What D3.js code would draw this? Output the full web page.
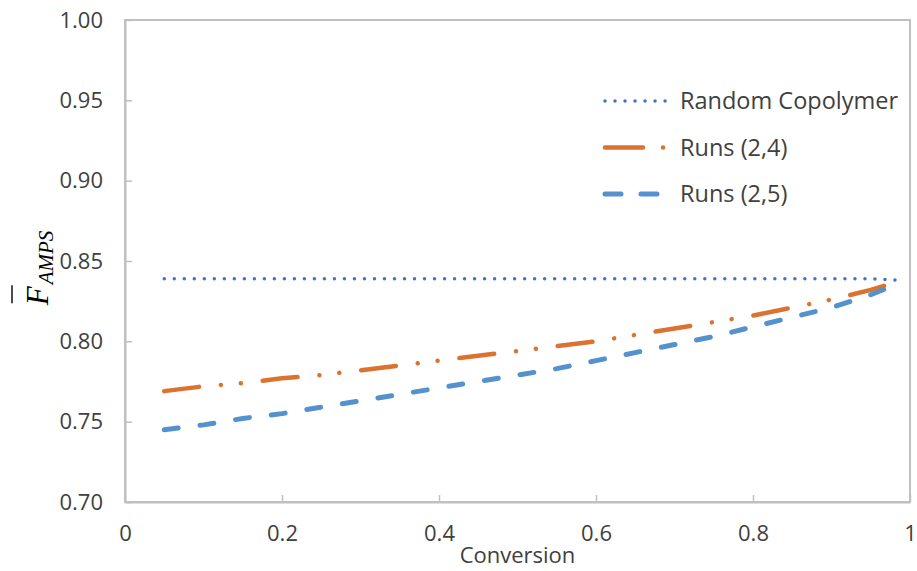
<!DOCTYPE html>
<html>
<head>
<meta charset="utf-8">
<script src="https://cdnjs.cloudflare.com/ajax/libs/d3/7.8.5/d3.min.js"></script>
<style>
  body { margin: 0; background: #fff; }
  text { font-family: "Open Sans", "Liberation Sans", sans-serif; fill: #404040; }
</style>
</head>
<body>
<div id="chart"></div>
<script>
// conversion values
const conversion = [0.05, 0.1, 0.15, 0.2, 0.25, 0.3, 0.35, 0.4, 0.45, 0.5,
                    0.55, 0.6, 0.65, 0.7, 0.75, 0.8, 0.85, 0.9, 0.95, 0.99];
const randomCopolymer = [0.839, 0.839, 0.839, 0.839, 0.839, 0.839, 0.839, 0.839, 0.839, 0.839,
                         0.839, 0.839, 0.839, 0.839, 0.839, 0.839, 0.839, 0.839, 0.839, 0.838];
const runs24 = [0.769, 0.772, 0.774, 0.777, 0.779, 0.782, 0.785, 0.788, 0.791, 0.794,
                0.797, 0.800, 0.804, 0.808, 0.812, 0.816, 0.821, 0.826, 0.832, 0.838];
const runs25 = [0.745, 0.748, 0.752, 0.755, 0.759, 0.763, 0.767, 0.771, 0.775, 0.779,
                0.783, 0.788, 0.793, 0.798, 0.803, 0.809, 0.815, 0.821, 0.829, 0.837];
const seriesNames = ["Random Copolymer", "Runs (2,4)", "Runs (2,5)"];
const xTicks = [0, 0.2, 0.4, 0.6, 0.8, 1];
const yTicks = [0.70, 0.75, 0.80, 0.85, 0.90, 0.95, 1.00];

const width = 917, height = 571;
const margin = {top: 20, right: 7, bottom: 69, left: 125};

const svg = d3.select("#chart").append("svg")
    .attr("width", width)
    .attr("height", height);

const x = d3.scaleLinear().domain([0, 1]).range([margin.left, width - margin.right]);
const y = d3.scaleLinear().domain([0.7, 1.0]).range([height - margin.bottom, margin.top]);

const axisColor = "#c0c0c0";

// plot frame
svg.append("rect")
    .attr("x", x(0)).attr("y", y(1))
    .attr("width", x(1) - x(0)).attr("height", y(0.7) - y(1))
    .attr("fill", "none").attr("stroke", axisColor).attr("stroke-width", 2);

// x axis (ticks pointing inward)
const xAxis = svg.append("g")
    .attr("transform", `translate(0,${y(0.7)})`)
    .call(d3.axisBottom(x).tickValues(xTicks).tickSizeInner(-7).tickSizeOuter(0)
        .tickPadding(23).tickFormat(d => d === 0 || d === 1 ? d : d3.format(".1f")(d)));
xAxis.select(".domain").attr("stroke", axisColor).attr("stroke-width", 2);
xAxis.selectAll(".tick line").attr("stroke", axisColor).attr("stroke-width", 1.5);
xAxis.selectAll(".tick text").style("font-size", "22px").style("font-family", "Open Sans")
    .style("fill", "#404040");

// y axis
const yAxis = svg.append("g")
    .attr("transform", `translate(${x(0)},0)`)
    .call(d3.axisLeft(y).tickValues(yTicks).tickSizeInner(-7).tickSizeOuter(0)
        .tickPadding(22).tickFormat(d3.format(".2f")));
yAxis.select(".domain").attr("stroke", axisColor).attr("stroke-width", 2);
yAxis.selectAll(".tick line").attr("stroke", axisColor).attr("stroke-width", 1.5);
yAxis.selectAll(".tick text").style("font-size", "22px").style("font-family", "Open Sans")
    .style("fill", "#404040");

// axis titles
svg.append("text")
    .attr("x", (x(0) + x(1)) / 2).attr("y", 563)
    .attr("text-anchor", "middle").style("font-size", "22px")
    .text("Conversion");

const yTitle = svg.append("g").attr("transform", "translate(48,268) rotate(-90)");
const yt = yTitle.append("text")
    .attr("text-anchor", "middle")
    .style("font-family", "'Liberation Serif', 'DejaVu Serif', serif")
    .style("font-style", "italic")
    .style("fill", "#000");
yt.append("tspan").style("font-size", "31px").text("F");
yt.append("tspan").style("font-size", "21px").attr("dy", 5).attr("dx", 2).text("AMPS");
// bar over the F
const fBox = yt.node().getExtentOfChar(0);
yTitle.append("line")
    .attr("x1", fBox.x + 2).attr("x2", fBox.x + fBox.width + 1)
    .attr("y1", -36).attr("y2", -36)
    .attr("stroke", "#000").attr("stroke-width", 1.4);

// series
const styles = [
  {values: randomCopolymer, color: "#4472c4", width: 3.5, dash: "0.01,10"},
  {values: runs24, color: "#dc7230", width: 4.5, dash: "35,22,0.01,20,0.01,22"},
  {values: runs25, color: "#5591cc", width: 5, dash: "14,22"}
];

const line = d3.line().x(d => x(d[0])).y(d => y(d[1]));

styles.forEach(s => {
  svg.append("path")
      .datum(conversion.map((c, i) => [c, s.values[i]]))
      .attr("d", line)
      .attr("fill", "none")
      .attr("stroke", s.color)
      .attr("stroke-width", s.width)
      .attr("stroke-linecap", "round")
      .attr("stroke-dasharray", s.dash);
});

// legend
const legend = svg.append("g").attr("transform", "translate(603,101)");
styles.forEach((s, i) => {
  const g = legend.append("g").attr("transform", `translate(0,${i * 46.5})`);
  g.append("line")
      .attr("x1", 2).attr("x2", 64)
      .attr("stroke", s.color)
      .attr("stroke-width", s.width)
      .attr("stroke-linecap", "round")
      .attr("stroke-dasharray", i === 1 ? "38,20,0.01,20" : (i === 2 ? "16,20" : s.dash));
  g.append("text")
      .attr("x", 77).attr("dy", "0.36em")
      .style("font-size", "23.5px")
      .text(seriesNames[i]);
});
</script>
</body>
</html>
